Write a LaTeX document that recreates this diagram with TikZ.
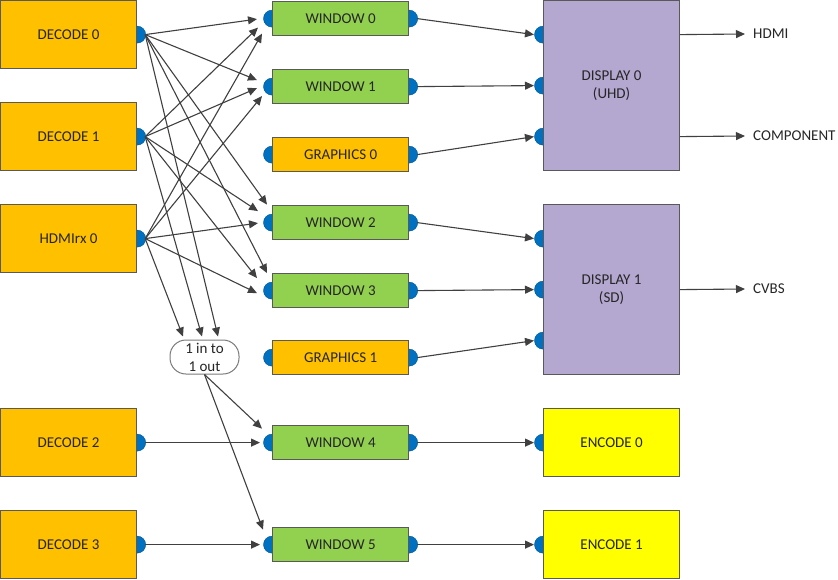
\documentclass[tikz,border=0pt]{standalone}
\usepackage{fontspec}
\setmainfont{Carlito}
\usetikzlibrary{arrows.meta,backgrounds,calc}
\definecolor{orng}{HTML}{FFC000}
\definecolor{grn}{HTML}{92D050}
\definecolor{purp}{HTML}{B4A7D0}
\definecolor{yel}{HTML}{FFFF00}
\definecolor{portblue}{HTML}{0070C0}
\definecolor{edgec}{HTML}{595959}
\definecolor{wire}{HTML}{404040}
\begin{document}
\begin{tikzpicture}[x=1pt,y=-1pt,
  box/.style={draw=edgec,line width=1.2pt,minimum width=136pt,anchor=north west,inner sep=0pt,
    font=\fontsize{15}{18.5}\selectfont,text=black!85,align=center},
  bigbox/.style={box,minimum height=68pt},
  smallbox/.style={box,minimum height=34pt},
  dispbox/.style={box,minimum height=170pt,fill=purp},
  port/.style={fill=portblue,draw=portblue!75!black,line width=0.4pt},
  wireln/.style={draw=wire,line width=1.1pt,-{Triangle[length=9pt,width=8pt]}},
  lbl/.style={inner sep=0pt,anchor=west,font=\fontsize{15}{18.5}\selectfont,text=black!85},
]
\useasboundingbox (0,0) rectangle (838,579);
% left sources
\node[bigbox,fill=orng] (d0) at (0,0) {DECODE 0};
\node[bigbox,fill=orng] (d1) at (0,102) {DECODE 1};
\node[bigbox,fill=orng] (hd) at (0,204) {HDMIrx 0};
\node[bigbox,fill=orng] (d2) at (0,408) {DECODE 2};
\node[bigbox,fill=orng] (d3) at (0,510) {DECODE 3};
% windows
\node[smallbox,fill=grn] (w0) at (272,1) {WINDOW 0};
\node[smallbox,fill=grn] (w1) at (272,69) {WINDOW 1};
\node[smallbox,fill=orng] (g0) at (272,137) {GRAPHICS 0};
\node[smallbox,fill=grn] (w2) at (272,205) {WINDOW 2};
\node[smallbox,fill=grn] (w3) at (272,273) {WINDOW 3};
\node[smallbox,fill=orng] (g1) at (272,340) {GRAPHICS 1};
\node[smallbox,fill=grn] (w4) at (272,425) {WINDOW 4};
\node[smallbox,fill=grn] (w5) at (272,527) {WINDOW 5};
% displays / encoders
\node[dispbox] (disp0) at (543,0) {DISPLAY 0\\(UHD)};
\node[dispbox] (disp1) at (543,204) {DISPLAY 1\\(SD)};
\node[bigbox,fill=yel] (e0) at (543,408) {ENCODE 0};
\node[bigbox,fill=yel] (e1) at (543,510) {ENCODE 1};
% converter
\node[draw=edgec!80,line width=1pt,rounded corners=16pt,minimum width=69pt,minimum height=34pt,
  inner sep=0pt,fill=white,align=center,font=\fontsize{15}{18}\selectfont,text=black!85] (oval) at (204.5,357) {1 in to\\1 out};
% output labels
\node[lbl] (hdmi) at (753,34) {HDMI};
\node[lbl] (comp) at (753,136) {COMPONENT};
\node[lbl] (cvbs) at (753,289) {CVBS};
% ports
\begin{pgfonlayer}{background}
\foreach \n in {d0,d1,hd,d2,d3,w0,w1,g0,w2,w3,g1,w4,w5}{
  \path[port] (\n.east) circle[radius=8.5pt];
}
\foreach \n in {w0,w1,g0,w2,w3,g1,w4,w5,e0,e1}{
  \path[port] (\n.west) circle[radius=8.5pt];
}
\foreach \d in {-51,0,51}{
  \path[port] ($(disp0.west)+(0,\d)$) circle[radius=8.5pt];
  \path[port] ($(disp1.west)+(0,\d)$) circle[radius=8.5pt];
}
\end{pgfonlayer}
% crossbar
\draw[wireln] ($(d0.east)+(8,0)$) -- ($(w0.west)+(-15,0.5)$);
\draw[wireln] ($(d1.east)+(8,0)$) -- ($(w0.west)+(-14,9)$);
\draw[wireln] ($(hd.east)+(8,0)$) -- ($(w0.west)+(-10,15)$);
\draw[wireln] ($(d0.east)+(8,0)$) -- ($(w1.west)+(-15,-6.5)$);
\draw[wireln] ($(d1.east)+(8,0)$) -- ($(w1.west)+(-15,1.5)$);
\draw[wireln] ($(hd.east)+(8,0)$) -- ($(w1.west)+(-10,9.5)$);
\draw[wireln] ($(d0.east)+(8,0)$) -- ($(w2.west)+(-5,-18)$);
\draw[wireln] ($(d1.east)+(8,0)$) -- ($(w2.west)+(-14,-11.5)$);
\draw[wireln] ($(hd.east)+(8,0)$) -- ($(w2.west)+(-14,0.5)$);
\draw[wireln] ($(d0.east)+(8,0)$) -- ($(w3.west)+(-5,-17.5)$);
\draw[wireln] ($(d1.east)+(8,0)$) -- ($(w3.west)+(-15,-12.5)$);
\draw[wireln] ($(hd.east)+(8,0)$) -- ($(w3.west)+(-15,2.5)$);
% to converter
\draw[wireln] ($(d0.east)+(8,0)$) -- ($(oval.north)+(13.5,-3)$);
\draw[wireln] ($(d1.east)+(8,0)$) -- ($(oval.north)+(-2.5,-3)$);
\draw[wireln] ($(hd.east)+(8,0)$) -- ($(oval.north)+(-21.5,-3)$);
% converter outputs
\draw[wireln] (oval.south) -- ($(w4.west)+(-10,-14)$);
\draw[wireln] (oval.south) -- ($(w5.west)+(-9,-15)$);
% direct
\draw[wireln] ($(d2.east)+(8,0)$) -- ($(w4.west)+(-12,0)$);
\draw[wireln] ($(d3.east)+(8,0)$) -- ($(w5.west)+(-12,0)$);
% to displays
\draw[wireln] ($(w0.east)+(8,0)$) -- ($(disp0.west)+(-9,-51)$);
\draw[wireln] ($(w1.east)+(8,0)$) -- ($(disp0.west)+(-9,0)$);
\draw[wireln] ($(g0.east)+(8,0)$) -- ($(disp0.west)+(-9,51)$);
\draw[wireln] ($(w2.east)+(8,0)$) -- ($(disp1.west)+(-9,-51)$);
\draw[wireln] ($(w3.east)+(8,0)$) -- ($(disp1.west)+(-9,0)$);
\draw[wireln] ($(g1.east)+(8,0)$) -- ($(disp1.west)+(-9,51)$);
\draw[wireln] ($(w4.east)+(8,0)$) -- ($(e0.west)+(-9,0)$);
\draw[wireln] ($(w5.east)+(8,0)$) -- ($(e1.west)+(-9,0)$);
% outputs
\draw[wireln] ($(disp0.east)+(0,-51)$) -- ($(hdmi.west)+(-8,0)$);
\draw[wireln] ($(disp0.east)+(0,51)$) -- ($(comp.west)+(-8,0)$);
\draw[wireln] (disp1.east) -- ($(cvbs.west)+(-8,0)$);
\end{tikzpicture}
\end{document}
